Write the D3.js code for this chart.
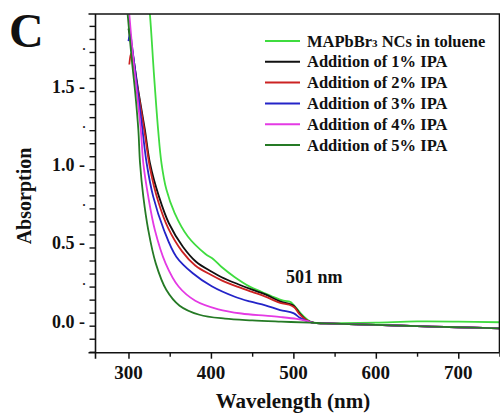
<!DOCTYPE html>
<html>
<head>
<meta charset="utf-8">
<script src="https://cdn.jsdelivr.net/npm/d3@7"></script>
<style>
    body { margin: 0; background: #fff; }
    svg text { font-family: "Liberation Serif", "Times New Roman", serif; font-weight: bold; fill: #111; }
</style>
</head>
<body>
<div id="chart"></div>
<script>
const width = 500;
const height = 417;

// series names + colours (legend order)
const seriesNames = ["MAPbBr3 NCs in toluene", "Addition of 1% IPA", "Addition of 2% IPA",
    "Addition of 3% IPA", "Addition of 4% IPA", "Addition of 5% IPA"];
const seriesColors = ["#3fdc3f", "#111111", "#cc2222", "#2424c8", "#e43ae4", "#257a25"];

// [wavelength nm, absorption]
const toluene = [[322,2.2],[326,1.99],[331,1.6],[336,1.25],[340,1.04],[346,0.87],[356,0.72],[372,0.57],
    [393,0.46],[403,0.425],[413,0.375],[429,0.31],[447,0.25],[462,0.215],[475,0.185],[488,0.16],
    [496,0.152],[500,0.135],[504,0.111],[512,0.062],[520,0.028],[530,0.015],[560,0.017],[600,0.02],
    [650,0.027],[700,0.026],[750,0.022]];
const ipa1 = [[300,1.9],[304,1.78],[312,1.5],[320,1.25],[326,1.04],[337,0.825],[349,0.655],[366,0.505],
    [382,0.409],[401,0.345],[413,0.31],[433,0.265],[450,0.23],[466,0.2],[484,0.155],[495,0.14],
    [501,0.125],[508,0.075],[516,0.035],[525,0.018],[540,0.015],[600,0.005],[650,-0.003],[700,-0.01],[750,-0.017]];
const ipa2 = [[301,1.67],[303,1.74],[305,1.7],[310,1.55],[320,1.22],[326,1.01],[336,0.795],[348,0.625],
    [365,0.475],[381,0.385],[401,0.322],[413,0.29],[433,0.248],[450,0.216],[466,0.186],[484,0.146],
    [495,0.134],[501,0.118],[508,0.07],[516,0.034],[525,0.018],[540,0.015],[600,0.005],[650,-0.003],[700,-0.01],[750,-0.017]];
const ipa3 = [[300,1.82],[302,1.87],[304,1.8],[310,1.55],[317,1.25],[322,1.04],[330,0.825],[343,0.612],
    [358,0.441],[378,0.335],[401,0.252],[429,0.185],[447,0.155],[466,0.13],[484,0.1],[500,0.08],
    [508,0.05],[516,0.03],[525,0.018],[540,0.015],[600,0.005],[650,-0.003],[700,-0.01],[750,-0.017]];
const ipa4 = [[301,1.99],[305,1.75],[310,1.5],[315,1.25],[318,1.038],[324,0.825],[332,0.612],[345,0.399],
    [361,0.249],[381,0.16],[409,0.105],[437,0.078],[466,0.064],[485,0.055],[504,0.043],[516,0.03],
    [525,0.018],[540,0.015],[600,0.005],[650,-0.003],[700,-0.01],[750,-0.017]];
const ipa5 = [[299,1.99],[304,1.7],[308,1.5],[312,1.25],[314,1.04],[318,0.825],[324,0.612],[333,0.4],
    [346,0.228],[362,0.128],[386,0.07],[417,0.045],[450,0.034],[485,0.026],[520,0.019],[540,0.015],
    [600,0.005],[650,-0.003],[700,-0.01],[750,-0.017]];
const allSeries = [toluene, ipa1, ipa2, ipa3, ipa4, ipa5];

const xTicks = [300, 400, 500, 600, 700];
const xMinorTicks = [350, 450, 550, 650, 750];
const yLabels = ["0.0", "0.5", "1.0", "1.5"];
const yLabelValues = [0, 0.5, 1.0, 1.5];
const yDotValues = [0.25, 0.75, 1.25, 1.75];
const peakLabel = "501 nm";

const plotLeft = 95.5, plotRight = 499.5, plotTop = 14, plotBottom = 352.7;

const svg = d3.select("#chart")
    .append("svg")
    .attr("width", width)
    .attr("height", height);

const x = d3.scaleLinear().domain([260, 750]).range([plotLeft, plotRight]);
const y = d3.scaleLinear().domain([-0.1727, 1.9927]).range([plotBottom, plotTop]);

svg.append("defs").append("clipPath")
    .attr("id", "plotclip")
    .append("rect")
    .attr("x", plotLeft).attr("y", plotTop)
    .attr("width", plotRight - plotLeft).attr("height", plotBottom - plotTop);

// curves
const line = d3.line()
    .x(d => x(d[0]))
    .y(d => y(d[1]))
    .curve(d3.curveCatmullRom.alpha(0.5));

svg.append("g")
    .attr("clip-path", "url(#plotclip)")
    .selectAll("path")
    .data(allSeries)
    .enter()
    .append("path")
    .attr("d", line)
    .attr("fill", "none")
    .attr("stroke", (d, i) => seriesColors[i])
    .attr("stroke-width", 1.8);

// frame
const frame = svg.append("g").attr("stroke", "#111").attr("stroke-width", 1.6);
frame.append("line").attr("x1", plotLeft).attr("x2", plotLeft).attr("y1", plotTop).attr("y2", plotBottom + 6);
frame.append("line").attr("x1", plotLeft - 7).attr("x2", plotRight).attr("y1", plotBottom).attr("y2", plotBottom);
frame.append("line").attr("x1", plotLeft - 7).attr("x2", width).attr("y1", plotTop).attr("y2", plotTop);
frame.append("line").attr("x1", plotRight).attr("x2", plotRight).attr("y1", plotTop).attr("y2", plotBottom);

// y axis: ticks every 0.5/6
const yAxis = d3.axisLeft(y)
    .tickValues(d3.range(-2, 24).map(k => k / 12))
    .tickSize(6)
    .tickFormat("");
svg.append("g")
    .attr("transform", `translate(${plotLeft},0)`)
    .call(yAxis)
    .call(g => g.select(".domain").remove())
    .call(g => g.selectAll("line").attr("stroke", "#111").attr("stroke-width", 1.4));

svg.append("g")
    .selectAll("text")
    .data(yLabelValues)
    .enter()
    .append("text")
    .attr("x", 85)
    .attr("y", d => y(d) + 2)
    .attr("text-anchor", "end")
    .attr("font-size", 18)
    .text((d, i) => yLabels[i] + " -");

svg.append("g")
    .selectAll("text")
    .data(yDotValues)
    .enter()
    .append("text")
    .attr("x", 84)
    .attr("y", d => y(d) - 2)
    .attr("text-anchor", "middle")
    .attr("font-size", 12)
    .text(".");

// x axis
const xAxis = d3.axisBottom(x).tickValues(xTicks).tickSize(6).tickFormat("");
svg.append("g")
    .attr("transform", `translate(0,${plotBottom})`)
    .call(xAxis)
    .call(g => g.select(".domain").remove())
    .call(g => g.selectAll("line").attr("stroke", "#111").attr("stroke-width", 1.5));

const xMinor = d3.axisBottom(x).tickValues(xMinorTicks).tickSize(4).tickFormat("");
svg.append("g")
    .attr("transform", `translate(0,${plotBottom})`)
    .call(xMinor)
    .call(g => g.select(".domain").remove())
    .call(g => g.selectAll("line").attr("stroke", "#111").attr("stroke-width", 1.4));

svg.append("g")
    .selectAll("text")
    .data(xTicks)
    .enter()
    .append("text")
    .attr("x", d => x(d))
    .attr("y", 379)
    .attr("text-anchor", "middle")
    .attr("font-size", 19)
    .text(d => d);

// axis titles
svg.append("text")
    .attr("x", 293)
    .attr("y", 408)
    .attr("text-anchor", "middle")
    .attr("font-size", 21)
    .text("Wavelength (nm)");

svg.append("text")
    .attr("transform", "translate(31,196) rotate(-90)")
    .attr("text-anchor", "middle")
    .attr("font-size", 20)
    .text("Absorption");

// panel letter
svg.append("text")
    .attr("x", 9)
    .attr("y", 47)
    .attr("font-size", 48)
    .text("C");

// peak label
svg.append("text")
    .attr("x", 286)
    .attr("y", 283)
    .attr("font-size", 18)
    .text(peakLabel);

// legend
const legend = svg.append("g")
    .selectAll("g")
    .data(seriesNames)
    .enter()
    .append("g")
    .attr("transform", (d, i) => `translate(0,${41 + i * 20.8})`);

legend.append("line")
    .attr("x1", 265).attr("x2", 300)
    .attr("stroke", (d, i) => seriesColors[i])
    .attr("stroke-width", 2);

legend.append("text")
    .attr("x", 307)
    .attr("y", 5.5)
    .attr("font-size", 16.5)
    .each(function(d) {
        const t = d3.select(this);
        if (d.startsWith("MAPbBr3")) {
            t.append("tspan").text("MAPbBr");
            t.append("tspan").attr("font-size", 11).text("3");
            t.append("tspan").text(d.slice(7));
        } else {
            t.text(d);
        }
    });
</script>
</body>
</html>
